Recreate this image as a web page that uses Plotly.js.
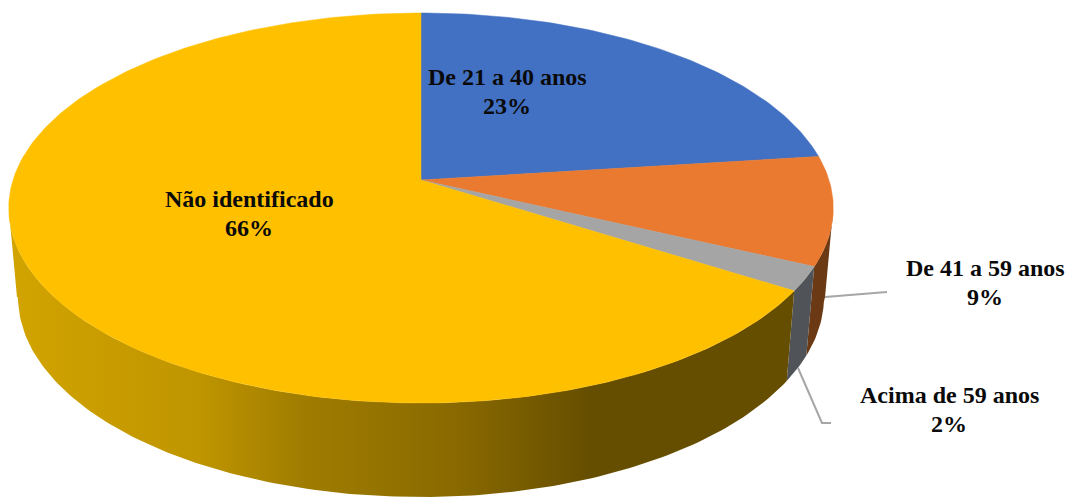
<!DOCTYPE html>
<html>
<head>
<meta charset="utf-8">
<script src="https://cdn.plot.ly/plotly-3.0.1.min.js"></script>
<style>html,body{margin:0;padding:0;background:#fff}</style>
</head>
<body>
<div id="chart" style="width:1073px;height:498px"></div>
<script>
// Data
const categories = ["De 21 a 40 anos", "De 41 a 59 anos", "Acima de 59 anos", "Não identificado"];
const percentages = [23, 9, 2, 66];
const topColors = ["#4270C3", "#E97A30", "#A5A5A5", "#FFC000"];
const sideColors = ["#2A4A80", "#6B3A14", "#505357", "#664E00"];

// Perspective disc: the axes below run in pixel units
const apex = {x: 421, y: 180};
const k = 0.1436, bY = 191, aX = 408;
const lowRx = 403, lowCy = 297, lowRy = 200, lowShrink = 0.98;
const tangent = Math.acos(-k);

function rim(t) {
  const u = Math.sin(t), v = Math.cos(t), d = 1 + k * v;
  return [apex.x + aX * u / d, apex.y - bY * v / d];
}
function lowRim(t) {
  const dx = (rim(t)[0] - apex.x) * lowShrink;
  const r = Math.min(1, Math.abs(dx) / lowRx);
  return [apex.x + dx, lowCy + lowRy * Math.sqrt(1 - r * r)];
}
function sweep(a, b) {
  const n = Math.max(2, Math.ceil(Math.abs(b - a) / 0.015));
  const out = [];
  for (let i = 0; i <= n; i++) out.push(a + (b - a) * i / n);
  return out;
}

const total = percentages.reduce((s, p) => s + p, 0);
let acc = 0;
const spans = percentages.map(p => {
  const a = acc / total * 2 * Math.PI;
  acc += p;
  return [a, acc / total * 2 * Math.PI];
});

const traces = [];
// side walls
spans.forEach((sp, i) => {
  const a = Math.max(sp[0], tangent), b = Math.min(sp[1], 2 * Math.PI - tangent);
  if (b <= a) return;
  const ts = sweep(a, b);
  const up = ts.map(rim), low = ts.slice().reverse().map(lowRim);
  const pts = up.concat(low);
  const tr = {
    type: "scatter", mode: "lines", fill: "toself", hoverinfo: "skip", showlegend: false,
    x: pts.map(p => p[0]), y: pts.map(p => p[1]),
    line: {width: 0, color: sideColors[i]}, fillcolor: sideColors[i]
  };
  if (i === 3) {
    tr.fillgradient = {
      type: "horizontal", start: 9, stop: 800,
      colorscale: [[0, "#D2A400"], [0.24, "#BF9500"], [0.37, "#A07D00"], [0.56, "#8A6A00"], [0.735, "#664E00"], [1, "#664E00"]]
    };
  }
  traces.push(tr);
});
// top faces
spans.forEach((sp, i) => {
  const pts = [[apex.x, apex.y]].concat(sweep(sp[0], sp[1]).map(rim));
  pts.push([apex.x, apex.y]);
  traces.push({
    type: "scatter", mode: "lines", fill: "toself", hoverinfo: "skip", showlegend: false,
    name: categories[i],
    x: pts.map(p => p[0]), y: pts.map(p => p[1]),
    line: {width: 0.5, color: topColors[i]}, fillcolor: topColors[i]
  });
});

const nameAt = [[507, 77], [985, 268], [949, 395], [249, 199]];
const percentAt = [[507, 106], [985, 297], [949, 424], [249, 228]];
const labelFont = {family: "Liberation Serif, Times New Roman, serif", size: 24, color: "#0a0a0a", weight: 700};
const annotations = [];
categories.forEach((c, i) => {
  annotations.push({x: nameAt[i][0], y: nameAt[i][1], xref: "x", yref: "y", text: c,
    showarrow: false, xanchor: "center", yanchor: "middle", font: labelFont});
  annotations.push({x: percentAt[i][0], y: percentAt[i][1], xref: "x", yref: "y", text: percentages[i] + "%",
    showarrow: false, xanchor: "center", yanchor: "middle", font: labelFont});
});
const leader = {color: "#A6A6A6", width: 2};
const shapes = [
  {type: "path", xref: "x", yref: "y", path: "M825,297 L887,292", line: leader},
  {type: "path", xref: "x", yref: "y", path: "M798,368 L822,423 L831,423", line: leader}
];

Plotly.newPlot("chart", traces, {
  width: 1073, height: 498, autosize: false,
  margin: {l: 0, r: 0, t: 0, b: 0},
  paper_bgcolor: "#fff", plot_bgcolor: "#fff", showlegend: false,
  xaxis: {range: [0, 1073], visible: false, fixedrange: true},
  yaxis: {range: [498, 0], visible: false, fixedrange: true},
  annotations, shapes
}, {displayModeBar: false, staticPlot: true});
</script>
</body>
</html>
